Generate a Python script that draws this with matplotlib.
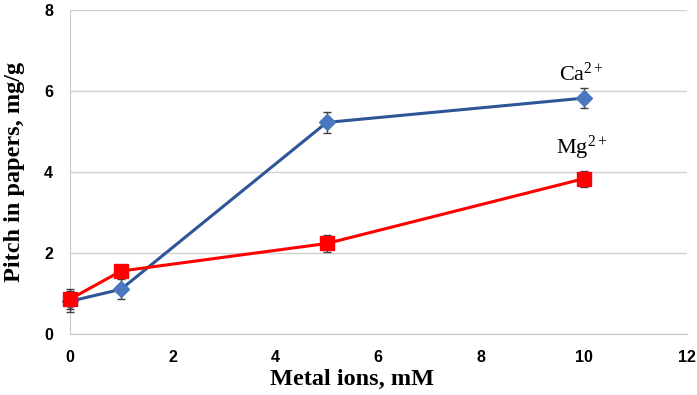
import matplotlib.pyplot as plt

conc = [0, 1, 5, 10]
ca_pitch = [0.80, 1.10, 5.22, 5.82]
ca_err = [0.25, 0.25, 0.25, 0.25]
mg_pitch = [0.85, 1.55, 2.23, 3.83]
mg_err = [0.25, 0.15, 0.22, 0.20]

serif = "Liberation Serif"
sans = "Liberation Sans"
plt.rcParams["mathtext.fontset"] = "custom"
plt.rcParams["mathtext.rm"] = serif
plt.rcParams["mathtext.it"] = serif + ":italic"
plt.rcParams["mathtext.bf"] = serif + ":bold"

fig = plt.figure(figsize=(6.97, 3.95), dpi=100)
ax = fig.add_axes([0.100, 0.155, 0.885, 0.82])

ca = ax.errorbar(conc, ca_pitch, yerr=ca_err, color="#2E5597", lw=2.2,
                 marker="D", ms=8, mfc="#4A78C0", mec="#4A78C0",
                 ecolor="#404040", elinewidth=1, capsize=3, zorder=3)
mg = ax.errorbar(conc, mg_pitch, yerr=mg_err, color="#FF0000", lw=2.2,
                 marker="s", ms=10, mfc="#FF0000", mec="#FF0000",
                 ecolor="#404040", elinewidth=1, capsize=3, zorder=4)
for cont in (ca, mg):
    for art in cont.get_children():
        art.set_clip_on(False)

ax.text(9.95, 6.12, r"Ca$^{\mathrm{2+}}$", family=serif, fontsize=16,
        ha="center", va="bottom")
ax.text(9.95, 4.25, r"Mg$^{\mathrm{2+}}$", family=serif, fontsize=16,
        ha="center", va="bottom")

ax.set_xlim(0, 12)
ax.set_ylim(0, 8)
ax.set_xticks(range(0, 13, 2))
ax.set_yticks(range(0, 9, 2))
ax.tick_params(length=0, pad=12, labelsize=11.5)
for lbl in ax.get_xticklabels() + ax.get_yticklabels():
    lbl.set_family(sans)
    lbl.set_fontweight("bold")
ax.grid(axis="y", color="#D0D0D0", lw=1)
ax.set_axisbelow(True)
for s in ["top", "right"]:
    ax.spines[s].set_visible(False)
for s in ["left", "bottom"]:
    ax.spines[s].set_color("#C8C8C8")

ax.set_xlabel("Metal ions, mM", family=serif, fontsize=17.5, fontweight="bold")
ax.xaxis.set_label_coords(0.458, -0.108)
ax.set_ylabel("Pitch in papers, mg/g", family=serif, fontsize=17.5, fontweight="bold", labelpad=14)

fig.savefig("out.png", dpi=100)
